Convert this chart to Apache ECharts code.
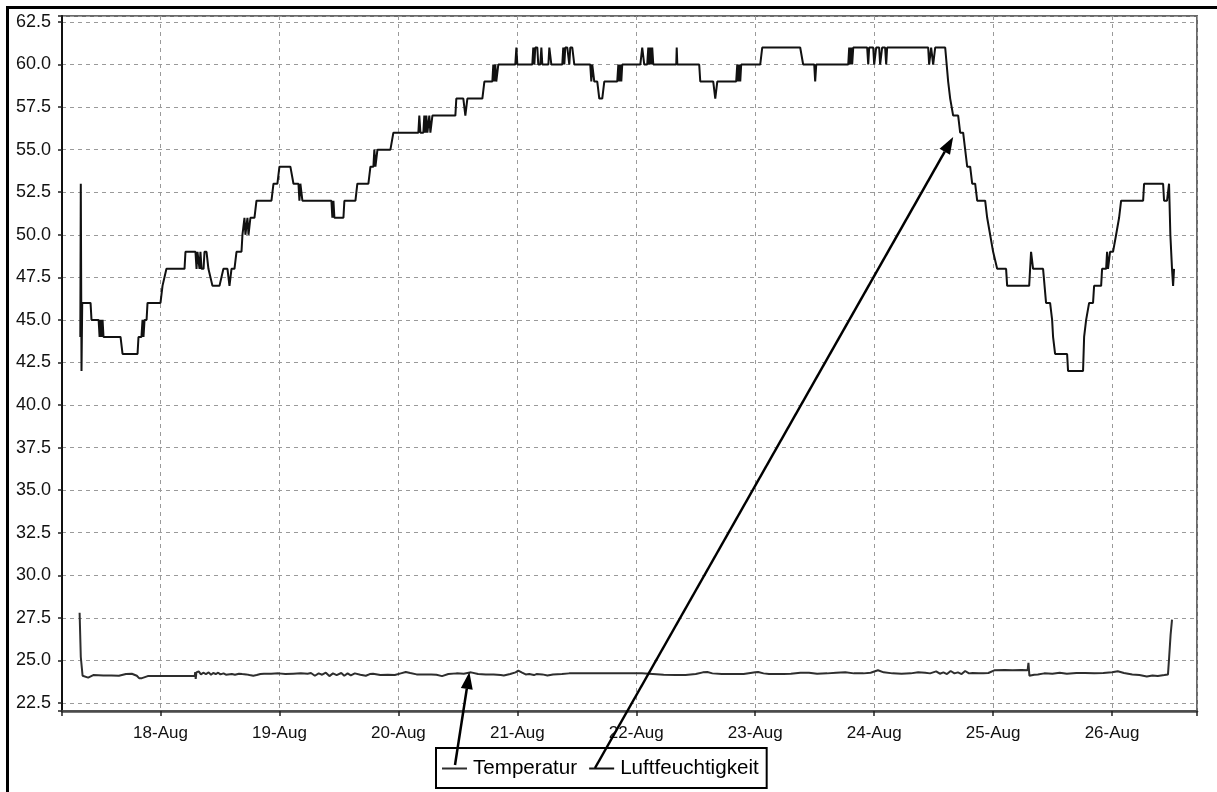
<!DOCTYPE html>
<html>
<head>
<meta charset="utf-8">
<script src="https://cdn.jsdelivr.net/npm/echarts@6/dist/echarts.min.js"></script>
<style>
  html, body { margin: 0; padding: 0; background: #fff; }
  #chart { width: 1217px; height: 792px; }
</style>
</head>
<body>
<div id="chart"></div>
<script>
// Logger readings, time given as day of August (17.5 = 17-Aug 12:00)
const seriesNames = ['Temperatur', 'Luftfeuchtigkeit'];
const monthLabel = 'Aug';
const yTickStep = 2.5;
const xRange = [17.172, 26.714];
const yRange = [22.03, 62.85];

// Temperatur [day, °C]
const temperature = [
  [17.320,27.8],[17.330,25.2],[17.345,24.10],[17.392,23.99],[17.435,24.14],[17.520,24.12],[17.588,24.12],
  [17.650,24.10],[17.710,24.20],[17.759,24.22],[17.801,24.10],[17.820,23.96],[17.844,23.96],[17.893,24.08],
  [18.000,24.08],[18.076,24.08],[18.180,24.08],[18.260,24.08],[18.288,24.10],[18.292,24.32],[18.296,23.92],
  [18.302,24.30],[18.321,24.36],[18.340,24.18],[18.360,24.28],[18.382,24.20],[18.405,24.30],[18.425,24.16],
  [18.443,24.26],[18.465,24.20],[18.485,24.28],[18.504,24.18],[18.530,24.24],[18.550,24.16],[18.565,24.22],
  [18.600,24.20],[18.626,24.16],[18.660,24.22],[18.687,24.20],[18.720,24.18],[18.748,24.14],[18.780,24.10],
  [18.809,24.14],[18.840,24.20],[18.870,24.22],[18.930,24.22],[18.993,24.24],[19.050,24.20],[19.115,24.22],
  [19.180,24.24],[19.237,24.22],[19.265,24.26],[19.298,24.10],[19.330,24.24],[19.359,24.16],[19.390,24.28],
  [19.420,24.08],[19.450,24.24],[19.481,24.14],[19.520,24.26],[19.545,24.10],[19.573,24.24],[19.600,24.12],
  [19.634,24.24],[19.680,24.16],[19.726,24.10],[19.760,24.20],[19.787,24.22],[19.848,24.14],[19.910,24.16],
  [19.970,24.14],[20.020,24.24],[20.062,24.32],[20.100,24.26],[20.153,24.18],[20.210,24.18],[20.276,24.18],
  [20.320,24.16],[20.367,24.08],[20.420,24.20],[20.489,24.24],[20.550,24.22],[20.611,24.30],[20.670,24.20],
  [20.734,24.18],[20.800,24.18],[20.860,24.14],[20.886,24.12],[20.940,24.20],[20.985,24.30],[21.008,24.40],
  [21.040,24.28],[21.070,24.18],[21.100,24.20],[21.140,24.14],[21.161,24.20],[21.210,24.18],[21.253,24.12],
  [21.300,24.18],[21.375,24.20],[21.436,24.24],[21.600,24.24],[21.742,24.24],[21.900,24.24],[22.047,24.24],
  [22.140,24.20],[22.230,24.16],[22.330,24.14],[22.414,24.14],[22.500,24.20],[22.560,24.30],[22.597,24.32],
  [22.640,24.24],[22.719,24.20],[22.800,24.20],[22.902,24.20],[22.960,24.26],[23.000,24.30],[23.024,24.32],
  [23.070,24.24],[23.116,24.20],[23.238,24.20],[23.300,24.22],[23.380,24.28],[23.452,24.28],[23.520,24.22],
  [23.605,24.24],[23.680,24.28],[23.757,24.30],[23.830,24.24],[23.910,24.24],[23.970,24.28],[24.032,24.42],
  [24.080,24.30],[24.154,24.24],[24.230,24.22],[24.307,24.24],[24.370,24.30],[24.429,24.28],[24.470,24.24],
  [24.521,24.36],[24.552,24.22],[24.582,24.30],[24.612,24.20],[24.643,24.38],[24.675,24.24],[24.704,24.30],
  [24.735,24.20],[24.765,24.38],[24.797,24.24],[24.827,24.26],[24.880,24.24],[24.918,24.24],[24.960,24.26],
  [25.010,24.42],[25.100,24.44],[25.162,24.42],[25.240,24.44],[25.290,24.42],[25.297,24.86],[25.305,24.10],
  [25.321,24.02],[25.345,24.16],[25.376,24.18],[25.430,24.24],[25.498,24.22],[25.560,24.28],[25.620,24.22],
  [25.700,24.26],[25.773,24.26],[25.850,24.24],[25.926,24.26],[26.000,24.30],[26.048,24.36],[26.100,24.26],
  [26.170,24.18],[26.230,24.14],[26.292,24.06],[26.340,24.12],[26.384,24.08],[26.440,24.14],[26.470,24.18],
  [26.480,25.2],[26.492,26.5],[26.504,27.4]
];

// Luftfeuchtigkeit [day, %]
const humidity = [
  [17.326,44],[17.330,53],[17.336,42],[17.342,46],[17.412,46],[17.420,45],[17.480,45],[17.488,44],[17.496,45],
  [17.505,44],[17.513,45],[17.521,44],[17.664,44],[17.681,43],[17.807,43],[17.815,44],[17.840,44],[17.849,45],
  [17.857,44],[17.866,45],[17.883,45],[17.891,46],[18.000,46],[18.017,47],[18.033,47],[18.050,48],[18.202,48],
  [18.210,49],[18.294,49],[18.303,48],[18.311,49],[18.328,48],[18.336,49],[18.345,48],[18.362,48],[18.370,49],
  [18.387,49],[18.403,48],[18.437,47],[18.496,47],[18.529,48],[18.563,48],[18.580,47],[18.597,48],[18.622,48],
  [18.639,49],[18.681,49],[18.689,50],[18.706,51],[18.714,50],[18.731,51],[18.740,50],[18.756,51],[18.790,51],
  [18.807,52],[18.933,52],[18.950,53],[18.983,53],[19.000,54],[19.092,54],[19.118,53],[19.160,53],[19.168,52],
  [19.176,53],[19.193,52],[19.437,52],[19.445,51],[19.454,52],[19.462,51],[19.538,51],[19.546,52],[19.639,52],
  [19.655,53],[19.748,53],[19.765,54],[19.790,54],[19.798,55],[19.807,54],[19.824,55],[19.933,55],[19.958,56],
  [20.168,56],[20.176,57],[20.185,56],[20.210,56],[20.218,57],[20.227,56],[20.235,57],[20.244,56],[20.260,57],
  [20.269,56],[20.286,57],[20.479,57],[20.487,58],[20.546,58],[20.563,57],[20.580,58],[20.706,58],[20.723,59],
  [20.790,59],[20.798,60],[20.807,59],[20.815,60],[20.823,59],[20.840,60],[20.983,60],[20.992,61],[21.000,60],
  [21.126,60],[21.134,61],[21.143,60],[21.151,61],[21.168,61],[21.176,60],[21.193,60],[21.202,61],[21.210,60],
  [21.261,60],[21.269,61],[21.286,60],[21.378,60],[21.386,61],[21.395,60],[21.403,61],[21.420,61],[21.437,60],
  [21.445,61],[21.462,61],[21.479,60],[21.613,60],[21.622,59],[21.630,60],[21.647,59],[21.672,59],[21.689,58],
  [21.714,58],[21.731,59],[21.840,59],[21.849,60],[21.857,59],[21.866,60],[21.874,59],[21.882,60],[22.034,60],
  [22.050,61],[22.067,60],[22.092,60],[22.101,61],[22.109,60],[22.118,61],[22.126,60],[22.134,61],[22.143,60],
  [22.336,60],[22.340,61],[22.345,60],[22.529,60],[22.538,59],[22.647,59],[22.664,58],[22.681,59],[22.840,59],
  [22.849,60],[22.857,59],[22.866,60],[22.874,59],[22.882,60],[23.042,60],[23.059,61],[23.378,61],[23.403,60],
  [23.496,60],[23.504,59],[23.513,60],[23.782,60],[23.790,61],[23.798,60],[23.807,61],[23.815,60],[23.824,61],
  [23.941,61],[23.950,60],[23.958,61],[23.992,61],[24.000,60],[24.017,61],[24.042,61],[24.050,60],[24.067,61],
  [24.092,61],[24.101,60],[24.109,61],[24.454,61],[24.462,60],[24.479,61],[24.496,60],[24.513,61],[24.597,61],
  [24.622,59],[24.639,58],[24.655,58],[24.664,57],[24.706,57],[24.723,56],[24.748,56],[24.765,55],[24.782,54],
  [24.807,54],[24.824,53],[24.849,53],[24.866,52],[24.933,52],[24.950,51],[24.975,50],[25.000,49],[25.034,48],
  [25.109,48],[25.118,47],[25.303,47],[25.319,49],[25.336,48],[25.420,48],[25.445,46],[25.479,46],[25.496,45],
  [25.504,44],[25.521,43],[25.622,43],[25.630,42],[25.756,42],[25.765,44],[25.782,45],[25.807,46],[25.840,46],
  [25.849,47],[25.908,47],[25.916,48],[25.950,48],[25.958,49],[25.966,48],[25.983,49],[26.008,49],[26.034,50],
  [26.059,51],[26.076,52],[26.261,52],[26.269,53],[26.429,53],[26.437,52],[26.462,52],[26.479,53],[26.490,50],
  [26.504,48],[26.513,47],[26.521,48]
];

// Points the annotation arrows aim at, in data units
const arrowTargets = [[20.597, 24.32], [24.664, 55.75]];

const FONT = '"Liberation Sans", Arial, Helvetica, sans-serif';
const gridStyle = { color: '#9a9a9a', width: 1, type: [4, 4] };

const chart = echarts.init(document.getElementById('chart'), null, { renderer: 'canvas' });

const isMultiple = (v, step) => Math.abs(v / step - Math.round(v / step)) < 1e-6;

chart.setOption({
  animation: false,
  backgroundColor: '#ffffff',
  textStyle: { fontFamily: FONT },
  grid: {
    left: 62, right: 20, top: 16, bottom: 81,
    show: true, borderColor: '#6a6a6a', borderWidth: 2, backgroundColor: 'transparent'
  },
  legend: {
    data: seriesNames,
    left: 436, top: 748,
    orient: 'horizontal',
    icon: 'rect', itemWidth: 25, itemHeight: 2, itemGap: 12,
    padding: [10, 8, 9, 6],
    borderColor: '#000', borderWidth: 2,
    textStyle: { fontFamily: FONT, fontSize: 20.6, color: '#000', padding: [0, 0, 0, 1] }
  },
  xAxis: {
    type: 'value',
    min: xRange[0], max: xRange[1],
    minInterval: 1, maxInterval: 1,
    axisLine: { show: true, onZero: false, lineStyle: { color: '#4a4a4a', width: 2.5 } },
    axisTick: { show: true, length: 5, lineStyle: { color: '#222', width: 1.5 } },
    splitLine: { show: true, lineStyle: gridStyle },
    axisLabel: {
      margin: 14, fontSize: 17, color: '#111', fontFamily: FONT,
      formatter: v => isMultiple(v, 1) ? Math.round(v) + '-' + monthLabel : ''
    }
  },
  yAxis: {
    type: 'value',
    min: yRange[0], max: yRange[1],
    minInterval: yTickStep, maxInterval: yTickStep,
    axisLine: { show: true, onZero: false, lineStyle: { color: '#111', width: 2 } },
    axisTick: { show: true, length: 4, lineStyle: { color: '#222', width: 1.5 } },
    splitLine: { show: true, lineStyle: gridStyle },
    axisLabel: {
      margin: 11, fontSize: 18, color: '#111', fontFamily: FONT,
      formatter: v => isMultiple(v, yTickStep) ? v.toFixed(1) : ''
    }
  },
  series: [
    {
      name: seriesNames[0], type: 'line', data: temperature,
      showSymbol: false, symbol: 'none',
      lineStyle: { color: '#2e2e2e', width: 2 }, itemStyle: { color: '#2e2e2e' }
    },
    {
      name: seriesNames[1], type: 'line', data: humidity,
      showSymbol: false, symbol: 'none',
      lineStyle: { color: '#111', width: 2 }, itemStyle: { color: '#111' }
    }
  ]
});

// Arrow from a legend entry up to a point on its curve
function arrow(from, to) {
  const dx = to[0] - from[0], dy = to[1] - from[1];
  const len = Math.hypot(dx, dy);
  const ux = dx / len, uy = dy / len;
  const headLen = 17, headHalf = 6;
  const bx = to[0] - ux * headLen, by = to[1] - uy * headLen;
  const px = -uy, py = ux;
  return [
    { type: 'line', z: 100, shape: { x1: from[0], y1: from[1], x2: bx, y2: by },
      style: { stroke: '#000', lineWidth: 2.5 } },
    { type: 'polygon', z: 100,
      shape: { points: [[to[0], to[1]], [bx + px * headHalf, by + py * headHalf], [bx - px * headHalf, by - py * headHalf]] },
      style: { fill: '#000' } }
  ];
}

const arrowStarts = [[455, 765], [595, 768]];
const tips = arrowTargets.map(p => chart.convertToPixel({ gridIndex: 0 }, p));

chart.setOption({
  graphic: [
    // page frame (top and left edges)
    { type: 'line', z: 100, shape: { x1: 6, y1: 7.5, x2: 1217, y2: 7.5 }, style: { stroke: '#000', lineWidth: 3 } },
    { type: 'line', z: 100, shape: { x1: 7.5, y1: 6, x2: 7.5, y2: 792 }, style: { stroke: '#000', lineWidth: 3 } },
    ...arrow(arrowStarts[0], tips[0]),
    ...arrow(arrowStarts[1], tips[1])
  ]
});
</script>
</body>
</html>
